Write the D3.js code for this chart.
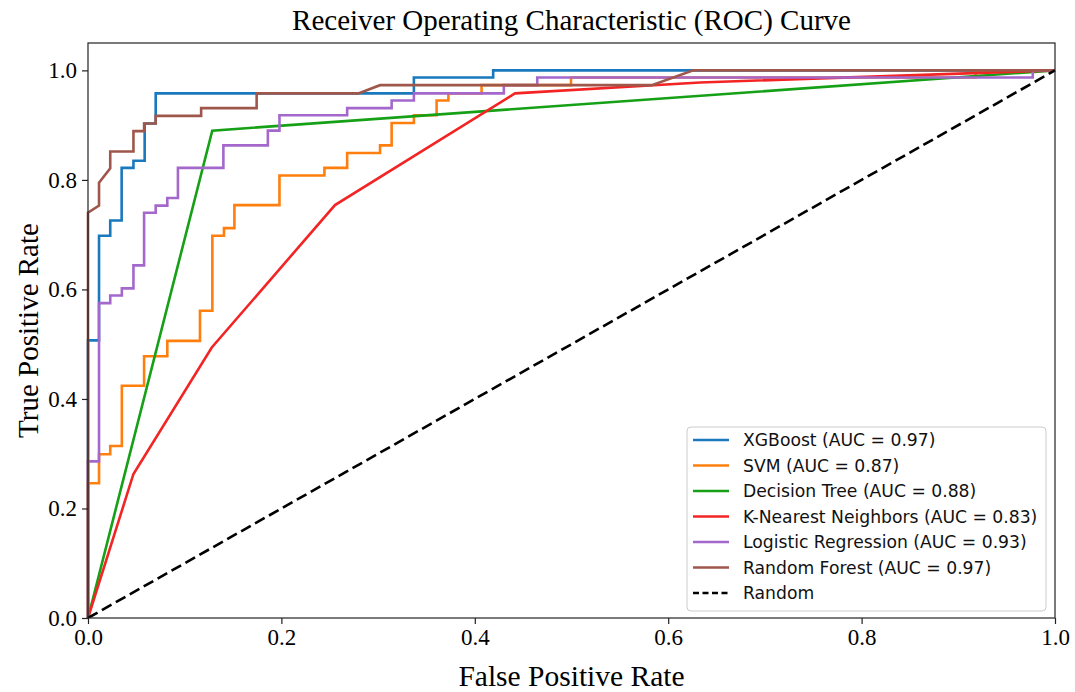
<!DOCTYPE html>
<html>
<head>
<meta charset="utf-8">
<script src="https://cdn.jsdelivr.net/npm/d3@7"></script>
<style>
  html, body { margin: 0; padding: 0; background: #fff; }
  svg { display: block; }
</style>
</head>
<body>
<div id="chart"></div>
<script>
// ===============================
// Data
// ===============================
const modelNames = ["XGBoost", "SVM", "Decision Tree", "K-Nearest Neighbors", "Logistic Regression", "Random Forest"];
const aucValues = [0.97, 0.87, 0.88, 0.83, 0.93, 0.97];

const xgbFpr = [0, 0, 0.0114, 0.0114, 0.023, 0.023, 0.0348, 0.0348, 0.047, 0.047, 0.0586, 0.0586, 0.070, 0.070, 0.337, 0.337, 0.419, 0.419, 1];
const xgbTpr = [0, 0.507, 0.507, 0.698, 0.698, 0.726, 0.726, 0.822, 0.822, 0.835, 0.835, 0.903, 0.903, 0.958, 0.958, 0.987, 0.987, 1.0, 1.0];

const svmFpr = [0, 0, 0.0114, 0.0114, 0.023, 0.023, 0.035, 0.035, 0.058, 0.058, 0.082, 0.082, 0.1158, 0.1158, 0.1286, 0.1286, 0.1406, 0.1406, 0.1514, 0.1514, 0.198, 0.198, 0.2445, 0.2445, 0.268, 0.268, 0.302, 0.302, 0.314, 0.314, 0.337, 0.337, 0.3605, 0.3605, 0.3727, 0.3727, 0.407, 0.407, 0.4995, 0.4995, 0.918, 0.918, 1];
const svmTpr = [0, 0.246, 0.246, 0.299, 0.299, 0.314, 0.314, 0.424, 0.424, 0.478, 0.478, 0.506, 0.506, 0.561, 0.561, 0.698, 0.698, 0.712, 0.712, 0.754, 0.754, 0.808, 0.808, 0.822, 0.822, 0.849, 0.849, 0.863, 0.863, 0.904, 0.904, 0.918, 0.918, 0.945, 0.945, 0.958, 0.958, 0.973, 0.973, 0.987, 0.987, 1.0, 1.0];

const dtFpr = [0, 0.1285, 1];
const dtTpr = [0, 0.890, 1];

const knnFpr = [0, 0.047, 0.128, 0.2554, 0.4416, 0.633, 1];
const knnTpr = [0, 0.263, 0.494, 0.754, 0.958, 0.978, 1];

const lrFpr = [0, 0, 0.0114, 0.0114, 0.023, 0.023, 0.035, 0.035, 0.047, 0.047, 0.058, 0.058, 0.070, 0.070, 0.082, 0.082, 0.093, 0.093, 0.140, 0.140, 0.186, 0.186, 0.198, 0.198, 0.268, 0.268, 0.314, 0.314, 0.337, 0.337, 0.4300, 0.4300, 0.4646, 0.4646, 0.977, 0.977, 1];
const lrTpr = [0, 0.286, 0.286, 0.575, 0.575, 0.589, 0.589, 0.602, 0.602, 0.644, 0.644, 0.740, 0.740, 0.753, 0.753, 0.767, 0.767, 0.822, 0.822, 0.863, 0.863, 0.890, 0.890, 0.918, 0.918, 0.931, 0.931, 0.945, 0.945, 0.958, 0.958, 0.973, 0.973, 0.987, 0.987, 1.0, 1.0];

const rfFpr = [0, 0, 0.0114, 0.0114, 0.023, 0.023, 0.047, 0.047, 0.058, 0.058, 0.070, 0.070, 0.117, 0.117, 0.1744, 0.1744, 0.2796, 0.302, 0.583, 0.626, 1];
const rfTpr = [0, 0.740, 0.753, 0.795, 0.821, 0.852, 0.852, 0.889, 0.889, 0.903, 0.903, 0.917, 0.917, 0.931, 0.931, 0.958, 0.958, 0.973, 0.973, 1.0, 1.0];

const randomFpr = [0, 1];
const randomTpr = [0, 1];

const xTicks = [0.0, 0.2, 0.4, 0.6, 0.8, 1.0];
const yTicks = [0.0, 0.2, 0.4, 0.6, 0.8, 1.0];

// ===============================
// Constants
// ===============================
const W = 1075, H = 692;
const margin = { top: 43, right: 20, bottom: 74, left: 88 };
const width = W - margin.left - margin.right;   // 967
const height = H - margin.top - margin.bottom;  // 575
const colors = ["#1a78bd", "#ff7f0e", "#16a016", "#f22424", "#a468cc", "#a0574b"];
const serif = "'Liberation Serif', 'Times New Roman', serif";
const sans = "'DejaVu Sans', sans-serif";

const series = [
    { fpr: xgbFpr, tpr: xgbTpr },
    { fpr: svmFpr, tpr: svmTpr },
    { fpr: dtFpr, tpr: dtTpr },
    { fpr: knnFpr, tpr: knnTpr },
    { fpr: lrFpr, tpr: lrTpr },
    { fpr: rfFpr, tpr: rfTpr }
].map((s, i) => ({
    name: `${modelNames[i]} (AUC = ${aucValues[i].toFixed(2)})`,
    color: colors[i],
    points: s.fpr.map((f, j) => [f, s.tpr[j]])
}));

const svg = d3.select("#chart")
    .append("svg")
    .attr("width", W)
    .attr("height", H);

const g = svg.append("g").attr("transform", `translate(${margin.left},${margin.top})`);

const x = d3.scaleLinear().domain([0, 1]).range([0, width]);
const y = d3.scaleLinear().domain([0, 1.05]).range([height, 0]);

const line = d3.line().x(d => x(d[0])).y(d => y(d[1]));

// clip so strokes stay in the frame
svg.append("defs").append("clipPath").attr("id", "plot-clip")
    .append("rect").attr("x", -2).attr("y", -2).attr("width", width + 4).attr("height", height + 2);

const plot = g.append("g").attr("clip-path", "url(#plot-clip)");

// model curves
series.forEach(s => {
    plot.append("path")
        .datum(s.points)
        .attr("fill", "none")
        .attr("stroke", s.color)
        .attr("stroke-width", 2.6)
        .attr("stroke-linejoin", "miter")
        .attr("d", line);
});

// random guess line
plot.append("path")
    .datum(randomFpr.map((f, j) => [f, randomTpr[j]]))
    .attr("fill", "none")
    .attr("stroke", "#000")
    .attr("stroke-width", 2.6)
    .attr("stroke-dasharray", "11,5")
    .attr("d", line);

// frame
g.append("rect")
    .attr("width", width)
    .attr("height", height)
    .attr("fill", "none")
    .attr("stroke", "#222")
    .attr("stroke-width", 1.2);

// axes
const xAxis = g.append("g")
    .attr("transform", `translate(0,${height})`)
    .call(d3.axisBottom(x).tickValues(xTicks).tickFormat(d3.format(".1f")).tickSize(6).tickPadding(5));
const yAxis = g.append("g")
    .call(d3.axisLeft(y).tickValues(yTicks).tickFormat(d3.format(".1f")).tickSize(6).tickPadding(5));

[xAxis, yAxis].forEach(a => {
    a.select(".domain").remove();
    a.selectAll(".tick line").attr("stroke", "#222").attr("stroke-width", 1.2);
    a.selectAll(".tick text")
        .attr("fill", "#000")
        .style("font-family", serif)
        .style("font-size", "23px");
});

// title and axis labels
svg.append("text")
    .attr("x", margin.left + width / 2)
    .attr("y", 30)
    .attr("text-anchor", "middle")
    .style("font-family", serif)
    .style("font-size", "29px")
    .text("Receiver Operating Characteristic (ROC) Curve");

svg.append("text")
    .attr("x", margin.left + width / 2)
    .attr("y", 686)
    .attr("text-anchor", "middle")
    .style("font-family", serif)
    .style("font-size", "29.5px")
    .text("False Positive Rate");

svg.append("text")
    .attr("transform", `translate(38,${margin.top + height / 2}) rotate(-90)`)
    .attr("text-anchor", "middle")
    .style("font-family", serif)
    .style("font-size", "29px")
    .text("True Positive Rate");

// legend
const legendItems = series.map(s => ({ name: s.name, color: s.color, dash: null }))
    .concat([{ name: "Random", color: "#000", dash: "6,3.5" }]);

const legend = svg.append("g").attr("transform", "translate(687,427)");
legend.append("rect")
    .attr("width", 359)
    .attr("height", 184)
    .attr("rx", 4)
    .attr("fill", "#fff")
    .attr("fill-opacity", 0.85)
    .attr("stroke", "#ccc")
    .attr("stroke-width", 1);

const rowH = 25.5;
const item = legend.selectAll(".item")
    .data(legendItems)
    .enter()
    .append("g")
    .attr("class", "item")
    .attr("transform", (d, i) => `translate(0,${13 + i * rowH})`);

item.append("line")
    .attr("x1", 6).attr("x2", 42)
    .attr("stroke", d => d.color)
    .attr("stroke-width", 2.6)
    .attr("stroke-dasharray", d => d.dash);

item.append("text")
    .attr("x", 56)
    .attr("dy", "0.35em")
    .style("font-family", sans)
    .style("font-size", "17.2px")
    .attr("fill", "#111")
    .text(d => d.name);
</script>
</body>
</html>
